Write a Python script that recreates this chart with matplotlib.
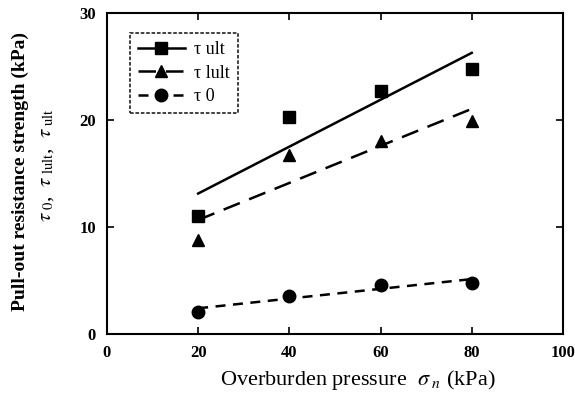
import numpy as np
import matplotlib.pyplot as plt

plt.rcParams['font.family'] = ['Liberation Serif', 'DejaVu Serif']
plt.rcParams['mathtext.fontset'] = 'stix'

pressure = [20, 40, 60, 80]
tau_ult = [11.0, 20.3, 22.7, 24.8]
tau_lult = [8.8, 16.7, 18.0, 19.9]
tau_0 = [2.1, 3.6, 4.6, 4.8]

series = [
    ("τ ult", tau_ult, 's', '-', 9),
    ("τ lult", tau_lult, '^', (0, (7, 4)), 9),
    ("τ 0", tau_0, 'o', (0, (4, 3)), 9),
]

fig = plt.figure(figsize=(5.75, 4.04), dpi=100)
ax = fig.add_axes([0.186, 0.173, 0.793, 0.795])

x = np.array(pressure, dtype=float)
xs = np.array([x.min(), x.max()])
for label, ys, marker, ls, ms in series:
    # regression line through the points
    k, b = np.polyfit(x, ys, 1)
    ax.plot(xs, k * xs + b, color='black', linestyle=ls, linewidth=1.8)
    ax.plot(x, ys, linestyle='none', marker=marker, markersize=ms, color='black')
    # proxy for legend
    ax.plot([], [], color='black', linestyle=ls, linewidth=1.8,
            marker=marker, markersize=ms, label=label)

ax.set_xlim(0, 100)
ax.set_ylim(0, 30)
ax.set_xticks(range(0, 101, 20))
ax.set_yticks(range(0, 31, 10))
ax.tick_params(direction='in', top=True, right=True, length=5, width=1.2,
               labelsize=12, pad=8)
for lbl in ax.get_xticklabels() + ax.get_yticklabels():
    lbl.set_fontweight('bold')
for s in ax.spines.values():
    s.set_linewidth(1.5)

leg = ax.legend(loc='upper left', bbox_to_anchor=(0.03, 0.965), fontsize=13,
                frameon=True, fancybox=False, edgecolor='black',
                handlelength=2.6, handletextpad=0.5, borderpad=0.45,
                labelspacing=0.35)
leg.get_frame().set_linewidth(1.3)
leg.get_frame().set_linestyle((0, (2, 1)))

fig.text(0.622, 0.03, r'Overburden pressure  $\sigma_{\ n}$ (kPa)',
         ha='center', va='bottom', fontsize=16)
fig.text(0.035, 0.575, 'Pull-out resistance strength (kPa)', rotation=90,
         ha='center', va='center', fontsize=14, fontweight='bold')
fig.text(0.08, 0.59, r'$\tau_{\ 0}$,  $\tau_{\ \mathrm{lult}}$,  $\tau_{\ \mathrm{ult}}$',
         rotation=90, ha='center', va='center', fontsize=15)

fig.savefig('out.png', dpi=100)
